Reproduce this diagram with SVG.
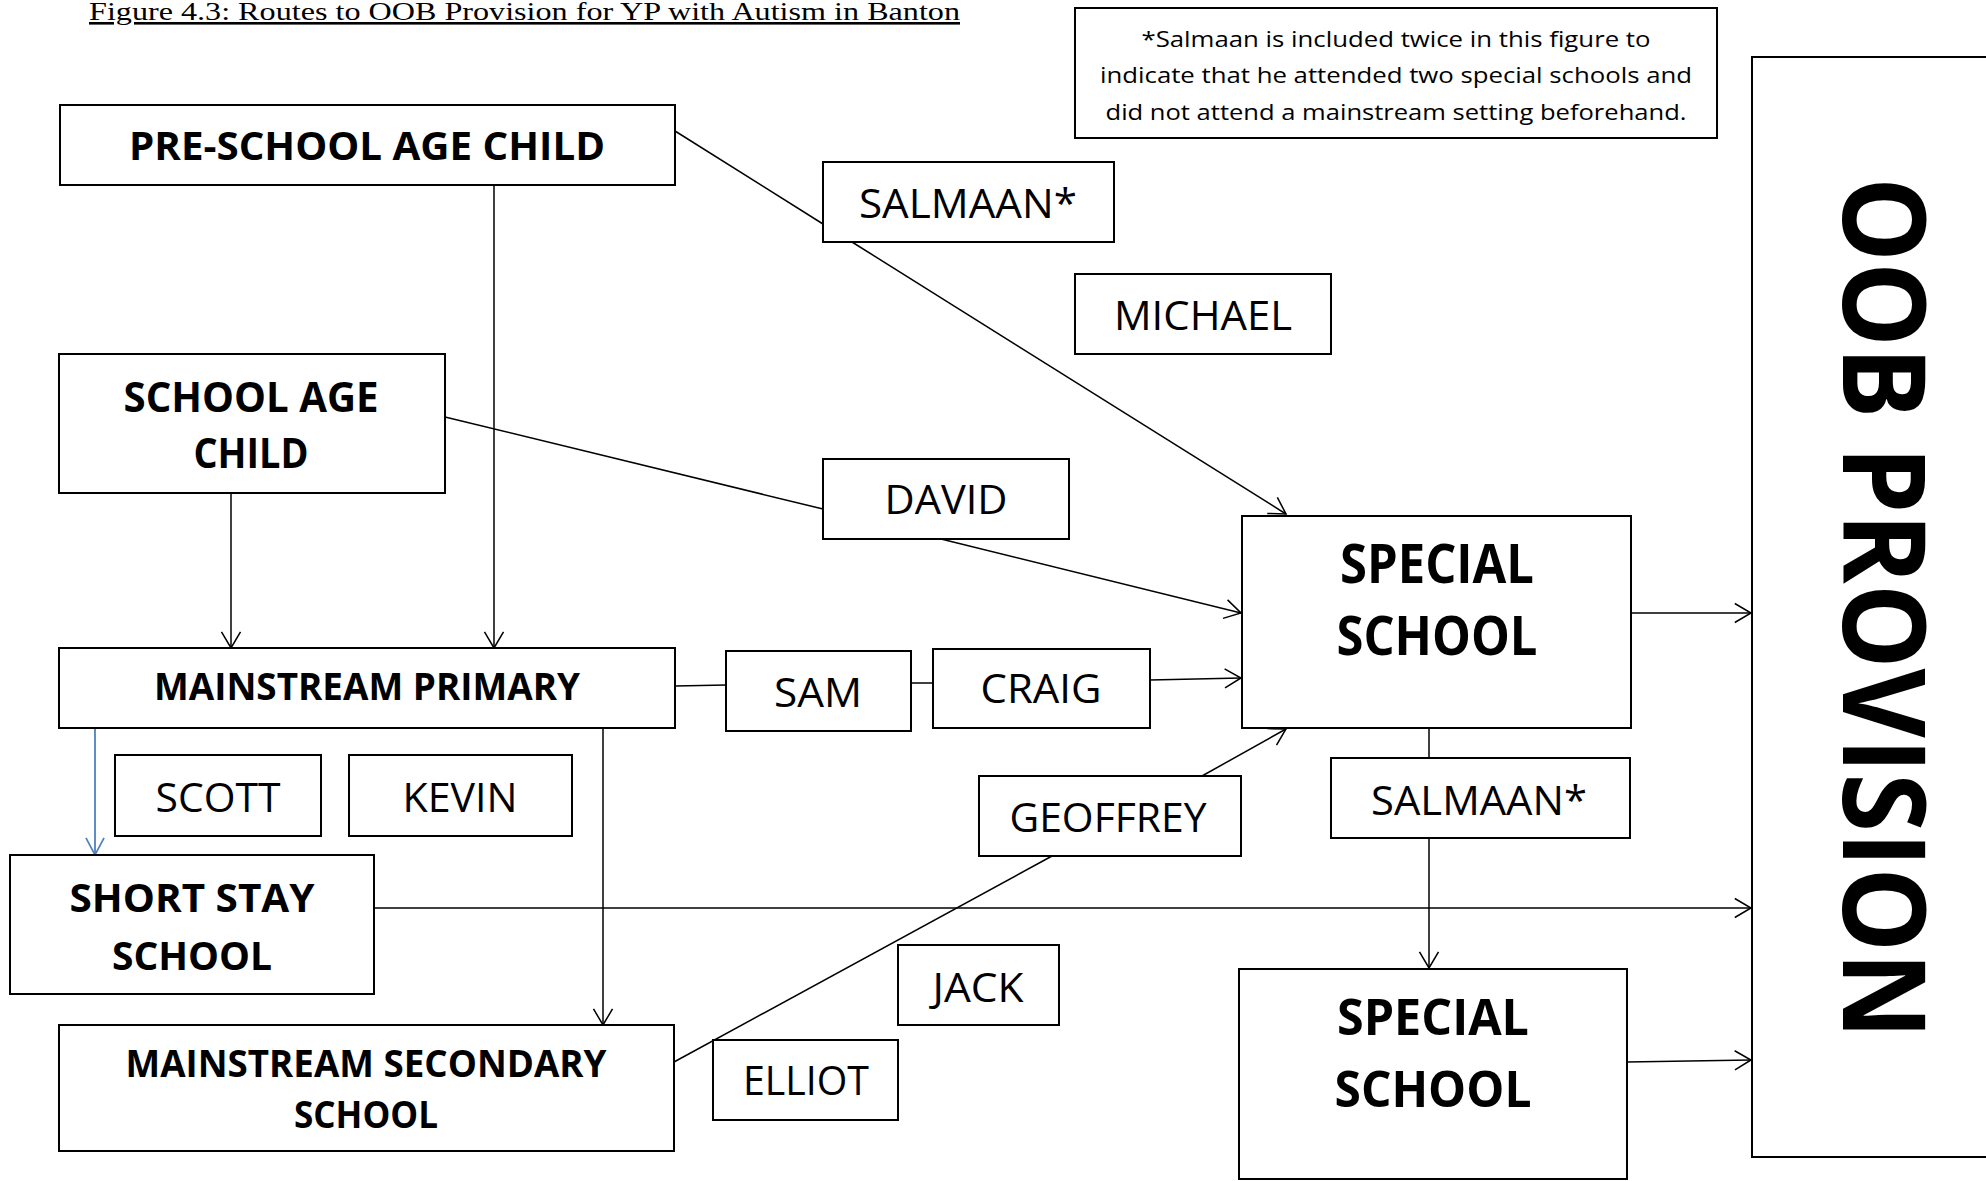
<svg xmlns="http://www.w3.org/2000/svg" width="1986" height="1181" viewBox="0 0 1986 1181">
  <defs>
    <style>
      .box { fill: #fff; stroke: #000; stroke-width: 2; }
      .link { fill: none; stroke: #000; stroke-width: 1.5; }
      .link-blue { fill: none; stroke: #4f81bd; stroke-width: 1.8; }
      .head { font-family: "Open Sans", "Liberation Sans", sans-serif; font-weight: 700; fill: #000; text-anchor: middle; }
      .name { font-family: "Open Sans", "Liberation Sans", sans-serif; font-weight: 400; font-size: 40px; fill: #000; text-anchor: middle; }
      .note { font-family: "Open Sans", "Liberation Sans", sans-serif; font-size: 22px; fill: #000; text-anchor: middle; }
      .title { font-family: "Liberation Serif", "Times New Roman", serif; font-size: 26px; fill: #000; text-decoration: underline; }
    </style>
    <marker id="arrow" markerUnits="userSpaceOnUse" orient="auto" refX="0" refY="0" markerWidth="20" markerHeight="24" viewBox="-19 -12 21 24" overflow="visible">
      <path d="M-17,-10 L0,0 L-17,10" fill="none" stroke="#000" stroke-width="1.6"/>
    </marker>
    <marker id="arrow-blue" markerUnits="userSpaceOnUse" orient="auto" refX="0" refY="0" markerWidth="20" markerHeight="24" viewBox="-19 -12 21 24" overflow="visible">
      <path d="M-18,-9.5 L0,0 L-18,9.5" fill="none" stroke="#4f81bd" stroke-width="1.8"/>
    </marker>
  </defs>

  <rect width="1986" height="1181" fill="#fff"/>

  <!-- caption -->
  <text class="title" x="89" y="20" textLength="871" lengthAdjust="spacingAndGlyphs">Figure 4.3: Routes to OOB Provision for YP with Autism in Banton</text>

  <!-- connectors -->
  <g id="connectors">
    <line class="link" x1="675" y1="131" x2="823" y2="224"/>
    <line class="link" x1="852" y1="242" x2="1286" y2="514" marker-end="url(#arrow)"/>
    <line class="link" x1="494" y1="185" x2="494" y2="648" marker-end="url(#arrow)"/>
    <line class="link" x1="231" y1="493" x2="231" y2="648" marker-end="url(#arrow)"/>
    <line class="link" x1="445" y1="417" x2="823" y2="509"/>
    <line class="link" x1="941" y1="539" x2="1241" y2="613" marker-end="url(#arrow)"/>
    <line class="link" x1="675" y1="686" x2="726" y2="685"/>
    <line class="link" x1="911" y1="683" x2="933" y2="683"/>
    <line class="link" x1="1150" y1="680" x2="1241" y2="678" marker-end="url(#arrow)"/>
    <line class="link-blue" x1="95" y1="728" x2="95" y2="855" marker-end="url(#arrow-blue)"/>
    <line class="link" x1="603" y1="728" x2="603" y2="1025" marker-end="url(#arrow)"/>
    <line class="link" x1="374" y1="908" x2="1751" y2="908" marker-end="url(#arrow)"/>
    <line class="link" x1="674" y1="1062" x2="1052" y2="856"/>
    <line class="link" x1="1202" y1="776" x2="1286" y2="729" marker-end="url(#arrow)"/>
    <line class="link" x1="1429" y1="728" x2="1429" y2="758"/>
    <line class="link" x1="1429" y1="838" x2="1429" y2="968" marker-end="url(#arrow)"/>
    <line class="link" x1="1631" y1="613" x2="1751" y2="613" marker-end="url(#arrow)"/>
    <line class="link" x1="1627" y1="1062" x2="1751" y2="1060" marker-end="url(#arrow)"/>
  </g>

  <!-- stages -->
  <g id="pre-school">
    <rect class="box" x="60" y="105" width="615" height="80"/>
    <text class="head" x="367" y="160" font-size="39" textLength="476" lengthAdjust="spacingAndGlyphs">PRE-SCHOOL AGE CHILD</text>
  </g>
  <g id="school-age">
    <rect class="box" x="59" y="354" width="386" height="139"/>
    <text class="head" x="251" y="412" font-size="42" textLength="255" lengthAdjust="spacingAndGlyphs">SCHOOL AGE</text>
    <text class="head" x="251" y="468" font-size="42" textLength="115" lengthAdjust="spacingAndGlyphs">CHILD</text>
  </g>
  <g id="mainstream-primary">
    <rect class="box" x="59" y="648" width="616" height="80"/>
    <text class="head" x="367" y="700" font-size="38" textLength="426" lengthAdjust="spacingAndGlyphs">MAINSTREAM PRIMARY</text>
  </g>
  <g id="short-stay">
    <rect class="box" x="10" y="855" width="364" height="139"/>
    <text class="head" x="192" y="912" font-size="40" textLength="245" lengthAdjust="spacingAndGlyphs">SHORT STAY</text>
    <text class="head" x="192" y="970" font-size="40" textLength="160" lengthAdjust="spacingAndGlyphs">SCHOOL</text>
  </g>
  <g id="mainstream-secondary">
    <rect class="box" x="59" y="1025" width="615" height="126"/>
    <text class="head" x="366" y="1077" font-size="37" textLength="481" lengthAdjust="spacingAndGlyphs">MAINSTREAM SECONDARY</text>
    <text class="head" x="366" y="1128" font-size="37" textLength="144" lengthAdjust="spacingAndGlyphs">SCHOOL</text>
  </g>
  <g id="special-school-1">
    <rect class="box" x="1242" y="516" width="389" height="212"/>
    <text class="head" x="1437" y="583" font-size="53" textLength="194" lengthAdjust="spacingAndGlyphs">SPECIAL</text>
    <text class="head" x="1437" y="655" font-size="53" textLength="201" lengthAdjust="spacingAndGlyphs">SCHOOL</text>
  </g>
  <g id="special-school-2">
    <rect class="box" x="1239" y="969" width="388" height="210"/>
    <text class="head" x="1433" y="1035" font-size="51" textLength="192" lengthAdjust="spacingAndGlyphs">SPECIAL</text>
    <text class="head" x="1433" y="1107" font-size="51" textLength="197" lengthAdjust="spacingAndGlyphs">SCHOOL</text>
  </g>
  <g id="oob-provision">
    <rect class="box" x="1752" y="57" width="260" height="1100"/>
    <text class="head" transform="translate(1843,608) rotate(90)" x="0" y="0" font-size="115" textLength="862" lengthAdjust="spacingAndGlyphs">OOB PROVISION</text>
  </g>

  <!-- footnote -->
  <g id="note">
    <rect class="box" x="1075" y="8" width="642" height="130"/>
    <text class="note" x="1396" y="47" textLength="509" lengthAdjust="spacingAndGlyphs">*Salmaan is included twice in this figure to</text>
    <text class="note" x="1396" y="83" textLength="592" lengthAdjust="spacingAndGlyphs">indicate that he attended two special schools and</text>
    <text class="note" x="1396" y="120" textLength="581" lengthAdjust="spacingAndGlyphs">did not attend a mainstream setting beforehand.</text>
  </g>

  <!-- young people -->
  <g id="salmaan-1">
    <rect class="box" x="823" y="162" width="291" height="80"/>
    <text class="name" x="968" y="218" textLength="218" lengthAdjust="spacingAndGlyphs">SALMAAN*</text>
  </g>
  <g id="michael">
    <rect class="box" x="1075" y="274" width="256" height="80"/>
    <text class="name" x="1203" y="330" textLength="178" lengthAdjust="spacingAndGlyphs">MICHAEL</text>
  </g>
  <g id="david">
    <rect class="box" x="823" y="459" width="246" height="80"/>
    <text class="name" x="946" y="514" textLength="123" lengthAdjust="spacingAndGlyphs">DAVID</text>
  </g>
  <g id="sam">
    <rect class="box" x="726" y="651" width="185" height="80"/>
    <text class="name" x="818" y="707" textLength="88" lengthAdjust="spacingAndGlyphs">SAM</text>
  </g>
  <g id="craig">
    <rect class="box" x="933" y="649" width="217" height="79"/>
    <text class="name" x="1041" y="703" textLength="121" lengthAdjust="spacingAndGlyphs">CRAIG</text>
  </g>
  <g id="scott">
    <rect class="box" x="115" y="755" width="206" height="81"/>
    <text class="name" x="218" y="812" textLength="125" lengthAdjust="spacingAndGlyphs">SCOTT</text>
  </g>
  <g id="kevin">
    <rect class="box" x="349" y="755" width="223" height="81"/>
    <text class="name" x="460" y="812" textLength="115" lengthAdjust="spacingAndGlyphs">KEVIN</text>
  </g>
  <g id="geoffrey">
    <rect class="box" x="979" y="776" width="262" height="80"/>
    <text class="name" x="1108" y="832" textLength="197" lengthAdjust="spacingAndGlyphs">GEOFFREY</text>
  </g>
  <g id="salmaan-2">
    <rect class="box" x="1331" y="758" width="299" height="80"/>
    <text class="name" x="1479" y="815" textLength="216" lengthAdjust="spacingAndGlyphs">SALMAAN*</text>
  </g>
  <g id="jack">
    <rect class="box" x="898" y="945" width="161" height="80"/>
    <text class="name" x="978" y="1002" textLength="91" lengthAdjust="spacingAndGlyphs">JACK</text>
  </g>
  <g id="elliot">
    <rect class="box" x="713" y="1040" width="185" height="80"/>
    <text class="name" x="806" y="1095" textLength="126" lengthAdjust="spacingAndGlyphs">ELLIOT</text>
  </g>
</svg>
